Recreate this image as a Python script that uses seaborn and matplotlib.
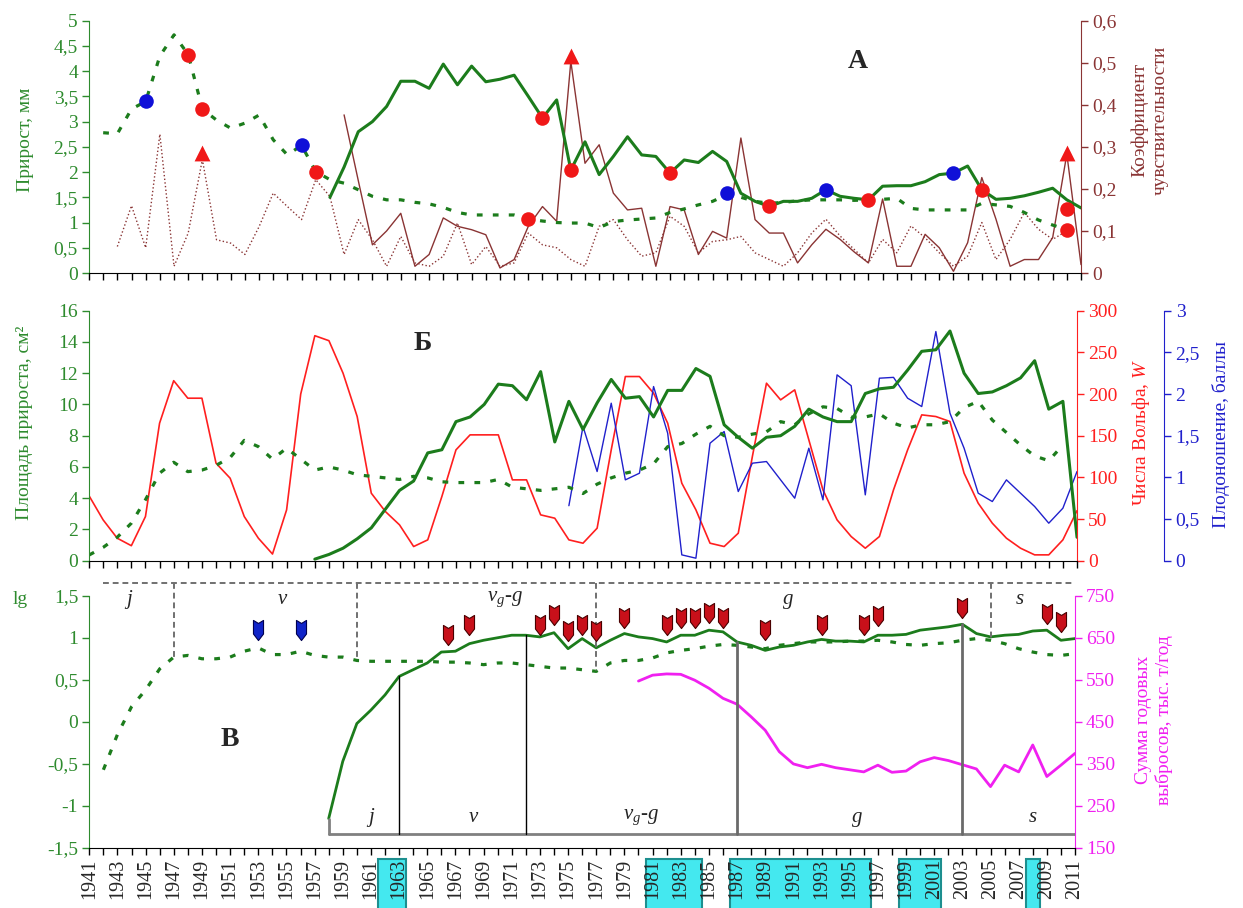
import numpy as np
import matplotlib
matplotlib.use("Agg")
import matplotlib.pyplot as plt
import matplotlib.transforms as mtransforms
from matplotlib.path import Path
from matplotlib.patches import Rectangle
from matplotlib.ticker import FuncFormatter, MultipleLocator, FixedLocator
import seaborn as sns

# ---------------------------------------------------------------- data
# Panel A: ring width (mm) of the old and the young tree, sensitivity coefficients
old_growth_years = np.arange(1942, 2012)
old_growth_mm = [2.78, 2.76, 3.25, 3.40, 4.30, 4.72, 4.33, 3.25, 3.03, 2.87,
                 2.97, 3.13, 2.64, 2.34, 2.53, 2.01, 1.85, 1.78, 1.65, 1.52,
                 1.45, 1.45, 1.40, 1.37, 1.30, 1.20, 1.15, 1.15, 1.15, 1.15,
                 1.07, 1.03, 1.00, 0.99, 0.99, 0.90, 1.02, 1.05, 1.07, 1.09,
                 1.20, 1.27, 1.35, 1.42, 1.55, 1.50, 1.42, 1.38, 1.40, 1.43,
                 1.45, 1.45, 1.45, 1.44, 1.45, 1.46, 1.48, 1.28, 1.25, 1.25,
                 1.25, 1.25, 1.38, 1.35, 1.32, 1.20, 1.05, 0.95, 0.86, 0.90]

young_growth_years = np.arange(1958, 2012)
young_growth_mm = [1.50, 2.10, 2.80, 3.00, 3.30, 3.80, 3.80, 3.66, 4.14, 3.73,
                   4.10, 3.79, 3.84, 3.92, 3.50, 3.07, 3.43, 2.04, 2.60, 1.95,
                   2.31, 2.70, 2.34, 2.31, 1.98, 2.24, 2.19, 2.41, 2.21, 1.58,
                   1.42, 1.32, 1.42, 1.42, 1.48, 1.65, 1.52, 1.48, 1.45, 1.72,
                   1.73, 1.73, 1.81, 1.95, 1.98, 2.12, 1.65, 1.46, 1.48, 1.53,
                   1.60, 1.68, 1.45, 1.29]

sens_old_years = np.arange(1943, 2011)
sens_old = [0.063, 0.160, 0.060, 0.330, 0.016, 0.095, 0.270, 0.079, 0.071, 0.044,
            0.110, 0.190, 0.158, 0.127, 0.222, 0.182, 0.044, 0.127, 0.079, 0.016,
            0.087, 0.024, 0.016, 0.040, 0.119, 0.020, 0.063, 0.016, 0.024, 0.095,
            0.067, 0.060, 0.032, 0.016, 0.111, 0.127, 0.079, 0.040, 0.048, 0.135,
            0.111, 0.048, 0.075, 0.079, 0.087, 0.048, 0.032, 0.016, 0.048, 0.095,
            0.128, 0.088, 0.056, 0.024, 0.080, 0.048, 0.112, 0.084, 0.048, 0.016,
            0.040, 0.120, 0.032, 0.080, 0.144, 0.104, 0.080, 0.100]

sens_young_years = np.arange(1959, 2012)
sens_young = [0.376, 0.220, 0.067, 0.100, 0.142, 0.016, 0.044, 0.131, 0.111, 0.103,
              0.091, 0.012, 0.032, 0.111, 0.158, 0.123, 0.503, 0.261, 0.305, 0.190,
              0.150, 0.154, 0.016, 0.158, 0.150, 0.044, 0.099, 0.083, 0.321, 0.127,
              0.095, 0.095, 0.024, 0.067, 0.104, 0.080, 0.050, 0.024, 0.176, 0.016,
              0.016, 0.092, 0.060, 0.004, 0.072, 0.227, 0.128, 0.016, 0.032, 0.032,
              0.084, 0.283, 0.020]

red_dot_years = [1948, 1949, 1957, 1972, 1973, 1975, 1982, 1989, 1996, 2004, 2010, 2010]
red_dot_mm = [4.33, 3.25, 2.01, 1.07, 3.07, 2.04, 1.98, 1.32, 1.45, 1.65, 1.27, 0.86]
blue_dot_years = [1945, 1956, 1986, 1993, 2002]
blue_dot_mm = [3.40, 2.53, 1.58, 1.65, 1.98]
triangle_years = [1949, 1975, 2010]
triangle_sens = [0.285, 0.515, 0.285]

# Panel B: ring area (cm2), Wolf numbers, seed production
old_area_years = np.arange(1941, 2011)
old_area = [0.36, 0.85, 1.50, 2.40, 3.90, 5.60, 6.30, 5.70, 5.80, 6.10,
            6.60, 7.70, 7.30, 6.50, 7.20, 6.50, 5.80, 6.00, 5.80, 5.50,
            5.40, 5.30, 5.20, 5.40, 5.30, 5.05, 5.00, 5.00, 5.00, 5.20,
            4.70, 4.60, 4.50, 4.60, 4.70, 4.30, 4.90, 5.30, 5.60, 5.80,
            6.20, 7.30, 7.50, 8.10, 8.60, 8.00, 7.90, 8.10, 8.25, 8.90,
            8.70, 9.40, 9.85, 9.74, 9.20, 9.20, 9.40, 8.80, 8.50, 8.70,
            8.70, 8.90, 9.80, 10.20, 9.00, 8.20, 7.40, 6.70, 6.40, 7.40]

young_area_years = np.arange(1957, 2012)
young_area = [0.10, 0.40, 0.80, 1.40, 2.10, 3.30, 4.50, 5.10, 6.90, 7.10,
              8.90, 9.20, 10.00, 11.30, 11.20, 10.30, 12.10, 7.60, 10.20, 8.40,
              10.10, 11.60, 10.40, 10.50, 9.20, 10.90, 10.90, 12.30, 11.80, 8.70,
              7.90, 7.20, 7.90, 8.00, 8.60, 9.70, 9.20, 8.90, 8.90, 10.70,
              11.00, 11.10, 12.20, 13.40, 13.50, 14.70, 12.00, 10.70, 10.80, 11.20,
              11.70, 12.80, 9.70, 10.20, 1.50]

wolf_years = np.arange(1941, 2012)
wolf = [78, 49, 27, 18, 53, 165, 216, 195, 195, 117,
        99, 53, 27, 8, 61, 200, 270, 264, 225, 173,
        81, 59, 43, 17, 25, 77, 133, 151, 151, 151,
        97, 97, 55, 51, 25, 21, 39, 133, 221, 221,
        201, 165, 93, 61, 21, 17, 33, 125, 213, 193,
        205, 145, 85, 49, 29, 15, 29, 85, 133, 175,
        173, 167, 105, 69, 45, 27, 15, 7, 7, 25,
        60]

seed_years = np.arange(1975, 2012)
seed_score = [0.66, 1.61, 1.07, 1.89, 0.97, 1.05, 2.09, 1.53, 0.07, 0.03,
              1.41, 1.55, 0.83, 1.17, 1.19, 0.97, 0.75, 1.35, 0.73, 2.23,
              2.10, 0.79, 2.19, 2.20, 1.95, 1.85, 2.75, 1.77, 1.35, 0.81,
              0.71, 0.97, 0.81, 0.65, 0.45, 0.63, 1.07]

# Panel C: lg of cumulative growth, emissions, ontogenetic stages
old_lg_years = np.arange(1942, 2012)
old_lg = [-0.57, -0.15, 0.18, 0.38, 0.63, 0.77, 0.79, 0.75, 0.75, 0.77,
          0.84, 0.88, 0.80, 0.80, 0.84, 0.79, 0.77, 0.77, 0.73, 0.72,
          0.72, 0.72, 0.72, 0.72, 0.71, 0.71, 0.70, 0.68, 0.70, 0.70,
          0.68, 0.66, 0.64, 0.64, 0.62, 0.60, 0.70, 0.73, 0.73, 0.76,
          0.82, 0.85, 0.87, 0.90, 0.92, 0.91, 0.89, 0.87, 0.91, 0.93,
          0.95, 0.95, 0.95, 0.96, 0.96, 0.97, 0.95, 0.92, 0.91, 0.93,
          0.94, 0.97, 0.99, 0.97, 0.93, 0.87, 0.83, 0.80, 0.79, 0.81]

young_lg_years = np.arange(1958, 2012)
young_lg = [-1.15, -0.47, -0.02, 0.14, 0.32, 0.54, 0.62, 0.70, 0.83, 0.84,
            0.93, 0.97, 1.00, 1.03, 1.03, 1.01, 1.06, 0.87, 0.99, 0.88,
            0.97, 1.05, 1.01, 0.99, 0.95, 1.03, 1.03, 1.09, 1.07, 0.95,
            0.91, 0.85, 0.89, 0.91, 0.95, 0.98, 0.96, 0.96, 0.95, 1.03,
            1.03, 1.04, 1.09, 1.11, 1.13, 1.16, 1.05, 1.01, 1.03, 1.04,
            1.08, 1.09, 0.97, 0.99]

emission_years = np.arange(1980, 2012)
emission = [547, 561, 564, 563, 549, 530, 506, 492, 462, 430,
            379, 350, 341, 349, 341, 336, 331, 347, 330, 333,
            355, 365, 358, 348, 338, 296, 347, 331, 395, 320,
            347, 375]

old_event_years = [1953, 1956]
old_event_lg = [1.09, 1.09]
young_event_years = [1966.5, 1968, 1973, 1974, 1975, 1976, 1977, 1979, 1982, 1983,
                     1984, 1985, 1986, 1989, 1993, 1996, 1997, 2003, 2009, 2010]
young_event_lg = [1.03, 1.155, 1.155, 1.27, 1.08, 1.155, 1.08, 1.23, 1.155, 1.23,
                  1.23, 1.29, 1.23, 1.09, 1.155, 1.155, 1.26, 1.35, 1.28, 1.19]

old_stage_bounds = [1947, 1960, 1977, 2005]
old_stage_labels = ["j", "ν", r"$\nu_{g}$-$g$", "g", "s"]
old_stage_label_x = [1943.8, 1954.7, 1970.5, 1990.6, 2007.1]
young_stage_start = 1958
young_stage_bounds = [1963, 1972, 1987, 2003]
young_stage_labels = ["j", "ν", r"$\nu_{g}$-$g$", "g", "s"]
young_stage_label_x = [1961.0, 1968.3, 1980.2, 1995.5, 2008.0]

highlight_spans = [(1962, 1963), (1981, 1984), (1987, 1996), (1999, 2001), (2008, 2008)]

emission_ticks = [150, 250, 350, 450, 550, 650, 750]

# ---------------------------------------------------------------- style
sns.set_style("white")
plt.rcParams["font.family"] = ["Liberation Serif", "DejaVu Serif"]
plt.rcParams["mathtext.fontset"] = "custom"
plt.rcParams["mathtext.rm"] = "Liberation Serif"
plt.rcParams["mathtext.it"] = "Liberation Serif:italic"

GREEN = "#1c7c1c"
GREEN_TXT = "#2e8b2e"
BROWN = "#8a3434"
RED = "#ff1f1f"
BLUE = "#2020cc"
MAGENTA = "#f020f0"
OLD_DASH = (0, (1.8, 3.2))
TICK_SIZE = 14
LABEL_SIZE = 14

W, H = 1243, 908
fig = plt.figure(figsize=(W / 100, H / 100), dpi=100)


def frame(left, top, right, bottom):
    return [left / W, 1 - bottom / H, (right - left) / W, (bottom - top) / H]


def comma(v, pos):
    return f"{v:g}".replace(".", ",")


def line(ax, x, y, **kw):
    sns.lineplot(x=x, y=y, ax=ax, errorbar=None, estimator=None, **kw)


def base_axes(ax, ycolor, ylim, step):
    ax.set_xlim(1941, 2011)
    ax.set_ylim(*ylim)
    ax.yaxis.set_major_locator(MultipleLocator(step))
    ax.yaxis.set_major_formatter(FuncFormatter(comma))
    ax.spines["top"].set_visible(False)
    ax.spines["right"].set_visible(False)
    ax.spines["left"].set_color(ycolor)
    ax.spines["bottom"].set_color("black")
    ax.set_xticks(np.arange(1941, 2012))
    ax.tick_params(axis="x", bottom=True, direction="out", length=5, width=1, color="black")
    ax.tick_params(axis="y", left=True, direction="out", length=5, width=1,
                   color=ycolor, labelcolor=ycolor, labelsize=TICK_SIZE, pad=3)
    ax.set_xlabel("")
    ax.set_ylabel("")
    ax.patch.set_alpha(0)


def right_axes(ax, color, ylim, step=None, ticks=None, outward=0):
    ax.set_ylim(*ylim)
    if ticks is not None:
        ax.yaxis.set_major_locator(FixedLocator(ticks))
    else:
        ax.yaxis.set_major_locator(MultipleLocator(step))
    ax.yaxis.set_major_formatter(FuncFormatter(comma))
    for s in ("top", "left", "bottom"):
        ax.spines[s].set_visible(False)
    ax.spines["right"].set_visible(True)
    ax.spines["right"].set_color(color)
    if outward:
        ax.spines["right"].set_position(("outward", outward))
    ax.tick_params(axis="y", right=True, left=False, direction="out", length=5, width=1,
                   color=color, labelcolor=color, labelsize=TICK_SIZE, pad=3)
    ax.set_ylabel("")


# ---------------------------------------------------------------- panel A
axA = fig.add_axes(frame(89, 20.7, 1081, 273))
axA2 = axA.twinx()
line(axA2, sens_old_years, sens_old, color=BROWN, linewidth=1.0, linestyle=":")
line(axA2, sens_young_years, sens_young, color=BROWN, linewidth=1.0)
line(axA, old_growth_years, old_growth_mm, color=GREEN, linewidth=2.3, linestyle=OLD_DASH)
line(axA, young_growth_years, young_growth_mm, color=GREEN, linewidth=2.2)
sns.scatterplot(x=red_dot_years, y=red_dot_mm, ax=axA, color="#f01818", s=110,
                linewidth=0, zorder=5)
sns.scatterplot(x=blue_dot_years, y=blue_dot_mm, ax=axA, color="#1010d8", s=110,
                linewidth=0, zorder=5)
sns.scatterplot(x=triangle_years, y=triangle_sens, ax=axA2, color="#f01818", s=130,
                marker="^", linewidth=0, zorder=5)
base_axes(axA, GREEN_TXT, (0, 5), 0.5)
axA.set_xticklabels([])
right_axes(axA2, BROWN, (0, 0.6), step=0.1)
axA.set_zorder(axA2.get_zorder() + 1)

# ---------------------------------------------------------------- panel B
axB = fig.add_axes(frame(89, 310.7, 1077, 560.7))
axB2 = axB.twinx()
axB3 = axB.twinx()
line(axB2, wolf_years, wolf, color=RED, linewidth=1.2)
line(axB3, seed_years, seed_score, color=BLUE, linewidth=1.0)
line(axB, old_area_years, old_area, color=GREEN, linewidth=2.3, linestyle=OLD_DASH)
line(axB, young_area_years, young_area, color=GREEN, linewidth=2.2)
base_axes(axB, GREEN_TXT, (0, 16), 2)
axB.set_xticklabels([])
right_axes(axB2, RED, (0, 300), step=50)
right_axes(axB3, BLUE, (0, 3), step=0.5, outward=63)
axB.set_zorder(axB3.get_zorder() + 1)

# ---------------------------------------------------------------- panel C
axC = fig.add_axes(frame(89.3, 595.7, 1075, 848))
axC2 = axC.twinx()
line(axC2, emission_years, emission, color=MAGENTA, linewidth=2.0)
line(axC, old_lg_years, old_lg, color=GREEN, linewidth=2.3, linestyle=OLD_DASH)
line(axC, young_lg_years, young_lg, color=GREEN, linewidth=2.0)
base_axes(axC, GREEN_TXT, (-1.5, 1.5), 0.5)
right_axes(axC2, MAGENTA, (150, 750), ticks=emission_ticks)
axC.set_zorder(axC2.get_zorder() + 1)

# year labels on the shared time axis
axC.set_xticklabels([str(y) if y % 2 == 1 else "" for y in range(1941, 2012)],
                    rotation=90, fontfamily="Liberation Serif", fontsize=14.5)
axC.tick_params(axis="x", pad=3)

# highlighted years below the axis
bt = mtransforms.blended_transform_factory(axC.transData, axC.transAxes)
for a, b in highlight_spans:
    axC.add_patch(Rectangle((a - 0.5, -0.044), b - a + 1, -0.25, transform=bt,
                            facecolor="#44e8ef", edgecolor="#1d8f8f", linewidth=1.5,
                            clip_on=False, zorder=0.5))

# ontogenetic stages of the old tree (top, dashed)
top_y = 1.65
axC.plot([1942, 2011], [top_y, top_y], color="#707070", linewidth=1.4,
         linestyle=(0, (3, 2)), clip_on=False)
for yr in old_stage_bounds:
    yb = np.interp(yr, old_lg_years, old_lg)
    axC.plot([yr, yr], [top_y, yb], color="#707070", linewidth=1.4,
             linestyle=(0, (3, 2)), clip_on=False)
for lab, xp in zip(old_stage_labels, old_stage_label_x):
    axC.text(xp, 1.46, lab, fontsize=15, fontstyle="italic", ha="center", va="center")

# ontogenetic stages of the young tree (bottom, solid)
bot_y = -1.334
axC.plot([young_stage_start, 2011], [bot_y, bot_y], color="#808080", linewidth=2)
axC.plot([young_stage_start, young_stage_start],
         [bot_y, np.interp(young_stage_start, young_lg_years, young_lg)],
         color="#808080", linewidth=2)
for i, yr in enumerate(young_stage_bounds):
    yt = np.interp(yr, young_lg_years, young_lg)
    if i < 2:
        axC.plot([yr, yr], [bot_y, yt], color="black", linewidth=1.0)
    else:
        axC.plot([yr, yr], [bot_y, yt], color="#6a6a6a", linewidth=2.0)
for lab, xp in zip(young_stage_labels, young_stage_label_x):
    axC.text(xp, -1.14, lab, fontsize=15, fontstyle="italic", ha="center", va="center")

# event markers (down-pointing bullets)
bullet = Path([(-0.5, 1.0), (0.0, 0.7), (0.5, 1.0), (0.5, -0.35), (0.0, -1.0),
               (-0.5, -0.35), (-0.5, 1.0)],
              [Path.MOVETO, Path.LINETO, Path.LINETO, Path.LINETO, Path.LINETO,
               Path.LINETO, Path.CLOSEPOLY])
sns.scatterplot(x=young_event_years, y=young_event_lg, ax=axC, marker=bullet, s=210,
                color="#c8101a", edgecolor="#4a0000", linewidth=0.8, zorder=6)
sns.scatterplot(x=old_event_years, y=old_event_lg, ax=axC, marker=bullet, s=210,
                color="#1024c8", edgecolor="#000050", linewidth=0.8, zorder=6)
axC.set_xlabel("")
axC.set_ylabel("")

# ---------------------------------------------------------------- texts
def ftext(x, y, s, **kw):
    fig.text(x / W, 1 - y / H, s, **kw)

ftext(25, 140, "Прирост, мм", rotation=90, ha="center", va="center",
      color=GREEN_TXT, fontsize=LABEL_SIZE)
ftext(1150, 120, "Коэффициент\nчувствительности", rotation=90, ha="center",
      va="center", color=BROWN, fontsize=LABEL_SIZE, linespacing=1.25,
      multialignment="center")
ftext(25, 423, "Площадь прироста, см²", rotation=90, ha="center", va="center",
      color=GREEN_TXT, fontsize=LABEL_SIZE)
ftext(1141, 432, "Числа Вольфа, $W$", rotation=90, ha="center", va="center",
      color=RED, fontsize=LABEL_SIZE)
ftext(1221, 435, "Плодоношение, баллы", rotation=90, ha="center", va="center",
      color=BLUE, fontsize=LABEL_SIZE)
ftext(20, 600, "lg", ha="center", va="center", color=GREEN_TXT, fontsize=LABEL_SIZE)
ftext(1154, 720, "Сумма годовых\nвыбросов, тыс. т/год", rotation=90, ha="center",
      va="center", color=MAGENTA, fontsize=LABEL_SIZE, linespacing=1.25,
      multialignment="center")

ftext(858, 62, "А", ha="center", va="center", fontsize=20, fontweight="bold")
ftext(423, 343, "Б", ha="center", va="center", fontsize=20, fontweight="bold")
ftext(230, 739, "В", ha="center", va="center", fontsize=20, fontweight="bold")

fig.savefig("out.png", dpi=100)
